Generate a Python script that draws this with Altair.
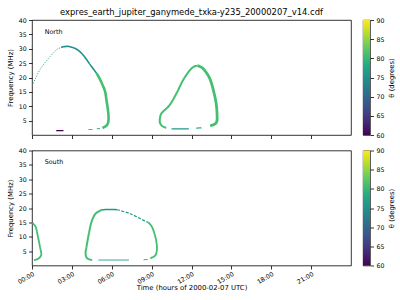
import altair as alt
import pandas as pd

TITLE = "expres_earth_jupiter_ganymede_txka-y235_20000207_v14.cdf"
X_TITLE = "Time (hours of 2000-02-07 UTC)"
Y_TITLE = "Frequency (MHz)"
CB_TITLE = "θ (degrees)"
X_TICKS = [0, 3, 6, 9, 12, 15, 18, 21]
Y_TICKS = [5, 10, 15, 20, 25, 30, 35, 40]
CB_TICKS = [60, 65, 70, 75, 80, 85, 90]

# ---- North hemisphere arcs: time (hours), frequency (MHz) ----
N1_RISE_T = [0.0, 0.3, 0.62, 1.12, 1.62, 1.87, 2.2, 2.5]
N1_RISE_F = [17.1, 20.0, 22.9, 26.0, 28.6, 29.8, 30.4, 30.7]
N1_PEAK_T = [2.2, 2.5, 2.87, 3.37, 3.87, 4.37, 4.87]
N1_PEAK_F = [30.5, 30.8, 30.7, 29.8, 27.7, 24.5, 21.4]
N1_FALL_T = [4.87, 5.1, 5.3, 5.5, 5.62, 5.72, 5.76, 5.72, 5.58, 5.3]
N1_FALL_F = [21.4, 19.5, 17.5, 15.1, 11.6, 8.5, 6.0, 4.2, 3.2, 2.4]
N1_TAIL_T = [4.88, 5.12]
N1_TAIL_F = [2.2, 2.2]
N1_TAIL2_T = [4.25, 4.55]
N1_TAIL2_F = [1.9, 1.9]
N1_LOW_T = [1.82, 2.37]
N1_LOW_F = [1.5, 1.5]

N2_UP_T = [10.1, 9.8, 9.63, 9.62, 9.7, 9.87, 10.37, 10.87, 11.37, 11.87, 12.2, 12.45]
N2_UP_F = [2.5, 3.1, 4.2, 5.6, 7.2, 8.2, 10.5, 14.5, 19.1, 22.5, 23.8, 24.1]
N2_DOWN_T = [12.45, 12.87, 13.37, 13.67, 13.87, 13.93, 13.88, 13.75, 13.4]
N2_DOWN_F = [24.1, 23.1, 19.7, 15.1, 10.5, 5.9, 4.5, 3.8, 3.2]
N2_DASH_T = [12.35, 12.75]
N2_DASH_F = [2.4, 2.5]
N2_BASE_T = [10.5, 11.8]
N2_BASE_F = [2.1, 2.1]

# ---- South hemisphere arcs ----
S1_T = [0.03, 0.28, 0.45, 0.6, 0.7, 0.62, 0.45, 0.15]
S1_F = [14.8, 13.4, 10.0, 6.5, 4.0, 3.0, 2.3, 1.9]
S2_LEFT_T = [4.53, 4.15, 4.03, 4.1, 4.28, 4.48, 4.78, 5.28]
S2_LEFT_F = [1.9, 2.5, 4.2, 6.5, 11.1, 15.2, 18.0, 19.4]
S2_TOP_T = [5.28, 5.9, 6.4]
S2_TOP_F = [19.4, 19.5, 19.4]
S2_TOPR_T = [6.4, 7.4, 8.4, 8.75]
S2_TOPR_F = [19.4, 18.0, 15.7, 15.0]
S2_RIGHT_T = [8.75, 9.03, 9.28, 9.4, 9.35, 9.2, 8.9]
S2_RIGHT_F = [15.0, 13.4, 10.0, 6.5, 4.2, 3.2, 2.5]
S2_DASH_T = [8.4, 8.7]
S2_DASH_F = [2.0, 2.1]
S2_BASE_T = [5.0, 7.3]
S2_BASE_F = [1.9, 1.9]

# emission angle theta (deg) per arc
THETA = {
    "n1rise": 76, "n1peak": 75, "n1fall": 81, "n1tail": 77, "n1tail2": 75, "n1low": 60,
    "n2up": 81, "n2down": 81, "n2dash": 78, "n2base": 76,
    "s1": 81, "s2left": 81, "s2top": 76, "s2topr": 77, "s2right": 81, "s2dash": 76, "s2base": 76,
}

# drawing style per arc: (stroke width, dash style)
STYLE = {
    "n1rise": (1.0, "dot"), "n1peak": (1.6, "solid"), "n1fall": (2.6, "solid"),
    "n1tail": (1.0, "solid"), "n1tail2": (1.0, "solid"), "n1low": (1.2, "solid"),
    "n2up": (2.0, "solid"), "n2down": (2.8, "solid"), "n2dash": (1.2, "solid"), "n2base": (1.2, "solid"),
    "s1": (1.8, "solid"), "s2left": (2.0, "solid"), "s2top": (1.5, "solid"), "s2topr": (1.2, "dash"),
    "s2right": (1.8, "solid"), "s2dash": (1.0, "solid"), "s2base": (1.0, "solid"),
}

ARCS = [
    ("North", "n1rise", N1_RISE_T, N1_RISE_F),
    ("North", "n1peak", N1_PEAK_T, N1_PEAK_F),
    ("North", "n1fall", N1_FALL_T, N1_FALL_F),
    ("North", "n1tail", N1_TAIL_T, N1_TAIL_F),
    ("North", "n1tail2", N1_TAIL2_T, N1_TAIL2_F),
    ("North", "n1low", N1_LOW_T, N1_LOW_F),
    ("North", "n2up", N2_UP_T, N2_UP_F),
    ("North", "n2down", N2_DOWN_T, N2_DOWN_F),
    ("North", "n2dash", N2_DASH_T, N2_DASH_F),
    ("North", "n2base", N2_BASE_T, N2_BASE_F),
    ("South", "s1", S1_T, S1_F),
    ("South", "s2left", S2_LEFT_T, S2_LEFT_F),
    ("South", "s2top", S2_TOP_T, S2_TOP_F),
    ("South", "s2topr", S2_TOPR_T, S2_TOPR_F),
    ("South", "s2right", S2_RIGHT_T, S2_RIGHT_F),
    ("South", "s2dash", S2_DASH_T, S2_DASH_F),
    ("South", "s2base", S2_BASE_T, S2_BASE_F),
]

rows = []
for hemi, seg, ts, fs in ARCS:
    w, dash = STYLE[seg]
    for i, (t, f) in enumerate(zip(ts, fs)):
        rows.append({"hemi": hemi, "seg": seg, "i": i, "t": t, "f": f,
                     "theta": THETA[seg], "w": w, "dash": dash})
df = pd.DataFrame(rows)

VIRIDIS = ["#440154", "#482475", "#414487", "#355f8d", "#2a788e", "#21918c",
           "#22a884", "#44bf70", "#7ad151", "#bddf26", "#fde725"]

PW, PH = 319, 115


def panel(hemi, bottom):
    d = df[df["hemi"] == hemi]
    if bottom:
        xaxis = alt.Axis(values=X_TICKS, title=X_TITLE, labelAngle=-30, labelAlign="right",
                         labelBaseline="top", labelPadding=1.5, labelOverlap=False, titlePadding=0,
                         labelExpr="(datum.value < 10 ? '0' : '') + datum.value + ':00'")
    else:
        xaxis = alt.Axis(values=X_TICKS, title=None, labels=False)
    yaxis = alt.Axis(values=Y_TICKS, title=Y_TITLE, labelOverlap=False, labelFlush=False,
                     labelPadding=2.3, titlePadding=4.5)
    xs = alt.Scale(domain=[0, 24], nice=False, zero=False)
    ys = alt.Scale(domain=[0, 40], nice=False)
    lines = alt.Chart(d).mark_line(interpolate="cardinal", clip=True).encode(
        x=alt.X("t:Q", scale=xs, axis=xaxis),
        y=alt.Y("f:Q", scale=ys, axis=yaxis),
        color=alt.Color("theta:Q", scale=alt.Scale(scheme="viridis", domain=[60, 90]), legend=None),
        detail="seg:N",
        order="i:Q",
        strokeWidth=alt.StrokeWidth("w:Q", scale=None, legend=None),
        strokeDash=alt.StrokeDash("dash:N", scale=alt.Scale(domain=["solid", "dot", "dash"],
                                                            range=[[1, 0], [1, 1.6], [3, 1.5]]),
                                  legend=None),
    )
    label = alt.Chart(pd.DataFrame({"t": [0.95], "f": [36.0], "txt": [hemi]})).mark_text(
        align="left", baseline="middle", fontSize=6.4, color="black"
    ).encode(
        x=alt.X("t:Q", scale=xs, axis=xaxis),
        y=alt.Y("f:Q", scale=ys, axis=yaxis),
        text="txt:N",
    )
    props = dict(width=PW, height=PH)
    if not bottom:
        props["title"] = alt.Title(TITLE, fontSize=8.4, fontWeight="normal", color="black",
                                   offset=1, anchor="middle", frame="group")
    return alt.layer(lines, label).properties(**props)


def colorbar():
    grad = alt.LinearGradient(
        gradient="linear",
        stops=[alt.GradientStop(color=c, offset=k / (len(VIRIDIS) - 1)) for k, c in enumerate(VIRIDIS)],
        x1=0, x2=0, y1=1, y2=0,
    )
    return alt.Chart(alt.Data(values=[{}])).mark_rect(color=grad).encode(
        y=alt.YDatum(60, type="quantitative", scale=alt.Scale(domain=[60, 90], nice=False),
                     axis=alt.Axis(orient="right", values=CB_TICKS, title=CB_TITLE, titleAngle=270,
                                   titleBaseline="top", titlePadding=5, labelOverlap=False,
                                   labelFlush=False, labelPadding=2.5)),
        y2=alt.datum(90),
        x=alt.value(0),
        x2=alt.value(7),
    ).properties(width=7, height=PH)


top = alt.hconcat(panel("North", False), colorbar(), spacing=10)
bot = alt.hconcat(panel("South", True), colorbar(), spacing=10)

chart = alt.vconcat(top, bot, spacing=6.5).properties(
    padding={"left": 6, "top": 7, "right": 4, "bottom": 4},
).resolve_scale(color="independent").configure(
    font="DejaVu Sans",
).configure_view(
    stroke="black", strokeWidth=0.8,
).configure_axis(
    domain=False, grid=False, tickColor="black", tickSize=3.5, tickWidth=0.8,
    labelFontSize=6.25, titleFontSize=6.9, labelColor="black", titleColor="black",
    titleFontWeight="normal",
).configure_concat(spacing=6.5)

chart.save("out.html", embed_options={"renderer": "svg", "actions": False})
